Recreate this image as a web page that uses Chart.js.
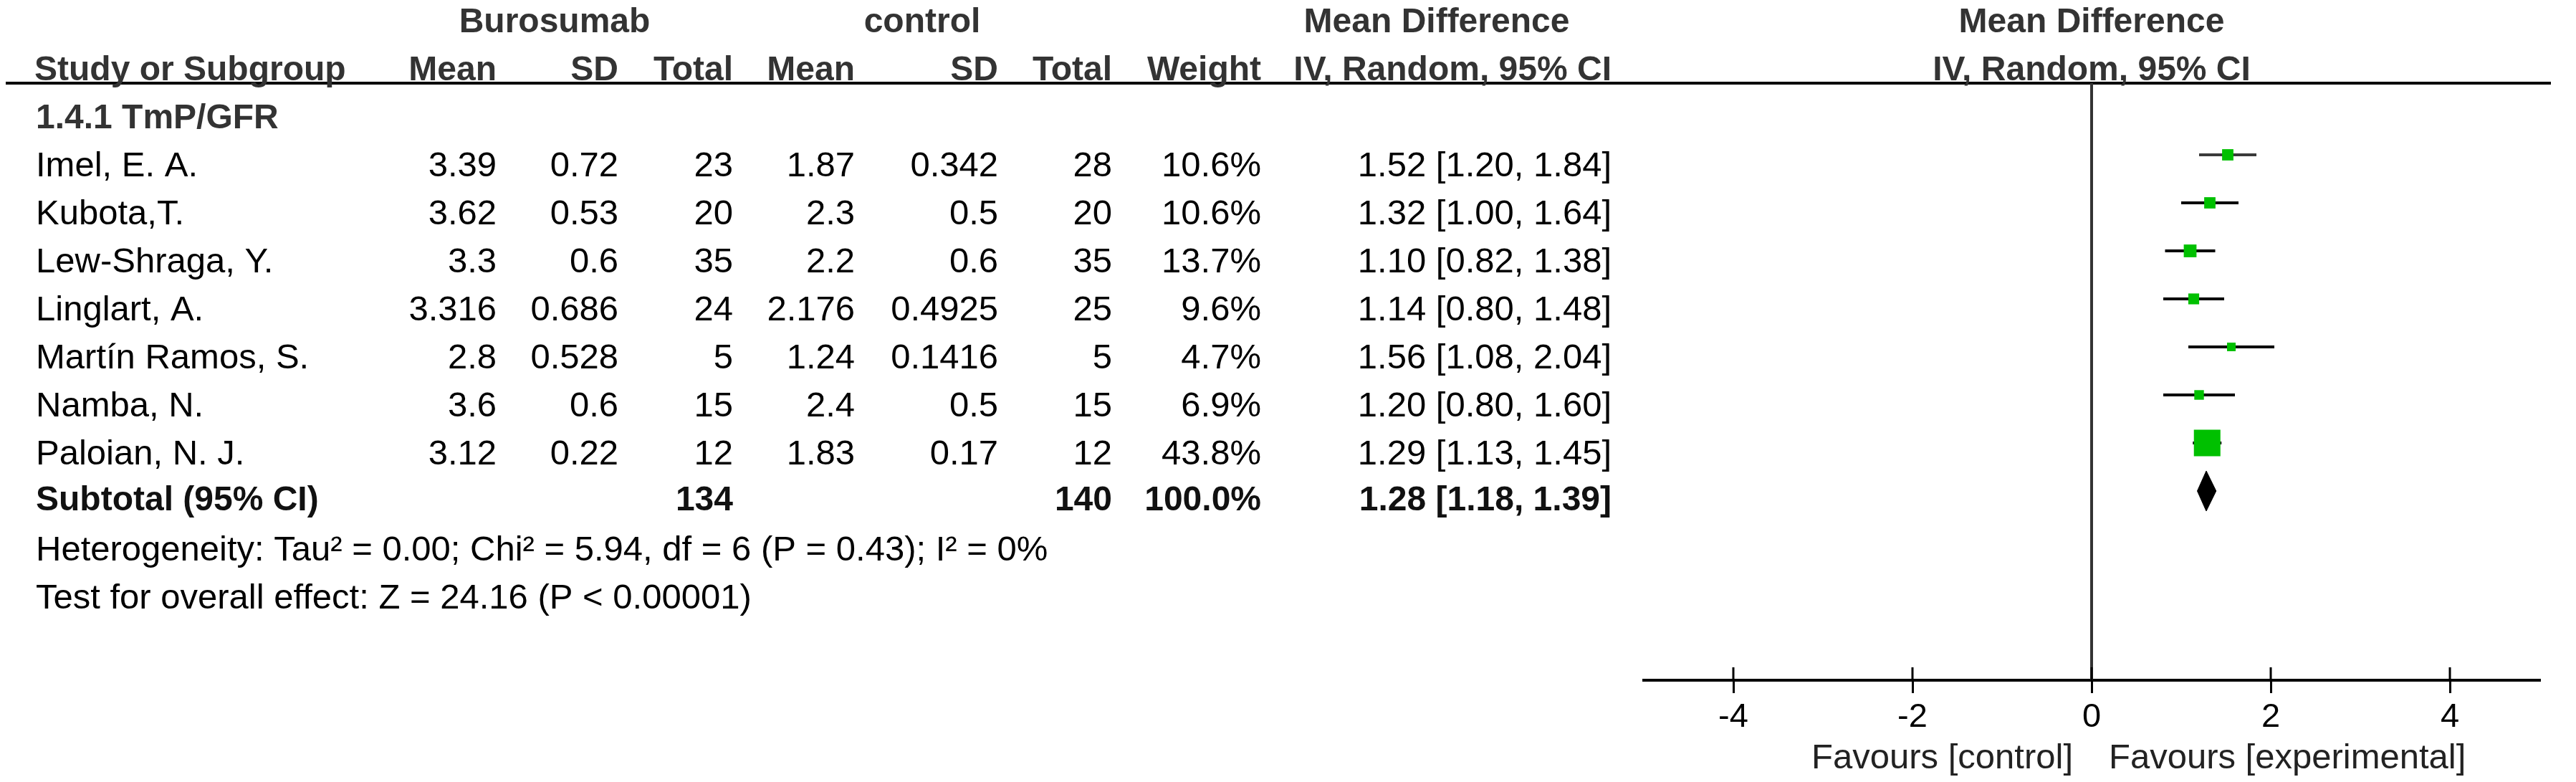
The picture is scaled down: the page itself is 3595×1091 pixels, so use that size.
<!DOCTYPE html>
<html>
<head>
<meta charset="utf-8">
<script src="https://cdn.jsdelivr.net/npm/chart.js@4"></script>
<style>
  html, body { margin: 0; padding: 0; background: #fff; }
  #wrap { width: 3595px; height: 1091px; }
</style>
</head>
<body>
<div id="wrap"><canvas id="forest"></canvas></div>
<script>
// Forest plot: Burosumab vs control, 1.4.1 TmP/GFR
const studies = ['Imel, E. A.', 'Kubota,T.', 'Lew-Shraga, Y.', 'Linglart, A.', 'Martín Ramos, S.', 'Namba, N.', 'Paloian, N. J.'];
const expMean = [3.39, 3.62, 3.3, 3.316, 2.8, 3.6, 3.12];
const expSD = [0.72, 0.53, 0.6, 0.686, 0.528, 0.6, 0.22];
const expN = [23, 20, 35, 24, 5, 15, 12];
const ctrlMean = [1.87, 2.3, 2.2, 2.176, 1.24, 2.4, 1.83];
const ctrlSD = [0.342, 0.5, 0.6, 0.4925, 0.1416, 0.5, 0.17];
const ctrlN = [28, 20, 35, 25, 5, 15, 12];
const weights = [10.6, 10.6, 13.7, 9.6, 4.7, 6.9, 43.8];
const md = [1.52, 1.32, 1.10, 1.14, 1.56, 1.20, 1.29];
const ciLow = [1.20, 1.00, 0.82, 0.80, 1.08, 0.80, 1.13];
const ciHigh = [1.84, 1.64, 1.38, 1.48, 2.04, 1.60, 1.45];
const totalExpN = 134;
const totalCtrlN = 140;
const totalWeight = 100.0;
const totalMd = 1.28;
const totalLow = 1.18;
const totalHigh = 1.39;
const heterogeneity = 'Heterogeneity: Tau² = 0.00; Chi² = 5.94, df = 6 (P = 0.43); I² = 0%';
const overallTest = 'Test for overall effect: Z = 24.16 (P < 0.00001)';
const xTicks = [-4, -2, 0, 2, 4];

// layout (px)
const W = 3595, H = 1091;
const topLine = 116;     // header rule
const axisY = 949;       // x axis line
const rowPitch = 67;
const firstRow = 100;    // first study row below header rule
const yMin = -firstRow / rowPitch;
const yMax = yMin + (axisY - topLine) / rowPitch;
const subRow = studies.length;
const family = '"Liberation Sans", Arial, sans-serif';
const col = { name: 50, eMean: 693, eSD: 863, eN: 1023, cMean: 1193, cSD: 1393, cN: 1552, weight: 1760, ci: 2249 };

const sqSide = w => 9 + 0.64 * w;
const fmtCI = (m, l, h) => m.toFixed(2) + ' [' + l.toFixed(2) + ', ' + h.toFixed(2) + ']';

const ciData = [];
studies.forEach((s, i) => {
  ciData.push({ x: ciLow[i], y: i }, { x: ciHigh[i], y: i }, { x: null, y: null });
});
const dh = 28 / rowPitch;
const diamond = [
  { x: totalLow, y: subRow }, { x: totalMd, y: subRow - dh },
  { x: totalHigh, y: subRow }, { x: totalMd, y: subRow + dh }, { x: totalLow, y: subRow }
];

const tablePlugin = {
  id: 'table',
  beforeDatasetsDraw(chart) {
    const c = chart.ctx, x = chart.scales.x;
    c.save();
    c.fillStyle = '#000';
    c.fillRect(8, topLine - 2, 3552, 4);
    const x0 = x.getPixelForValue(0);
    c.fillStyle = '#333';
    c.fillRect(x0 - 2, topLine, 4, chart.chartArea.bottom - topLine);
    c.fillStyle = '#000';
    x.ticks.forEach(t => {
      const px = x.getPixelForValue(t.value);
      c.fillRect(px - 1.5, axisY - 18, 3, 18);
    });
    c.restore();
  },
  afterDraw(chart) {
    const c = chart.ctx, x = chart.scales.x, y = chart.scales.y;
    const base = i => y.getPixelForValue(i) + 30;
    const x0 = x.getPixelForValue(0);
    const t = (s, px, row, align, bold, color) => {
      c.font = (bold ? 'bold 48px ' : '49px ') + family;
      c.textAlign = align;
      c.fillStyle = color || (bold ? '#333' : '#000');
      c.fillText(s, px, typeof row === 'number' ? base(row) : row.py);
    };
    c.save();
    c.textBaseline = 'alphabetic';
    // group headers
    t('Burosumab', 774, -3, 'center', true);
    t('control', 1287, -3, 'center', true);
    t('Mean Difference', 2005, -3, 'center', true);
    t('Mean Difference', x0, -3, 'center', true);
    // column headers
    t('Study or Subgroup', 48, -2, 'left', true);
    t('Mean', col.eMean, -2, 'right', true);
    t('SD', col.eSD, -2, 'right', true);
    t('Total', col.eN, -2, 'right', true);
    t('Mean', col.cMean, -2, 'right', true);
    t('SD', col.cSD, -2, 'right', true);
    t('Total', col.cN, -2, 'right', true);
    t('Weight', col.weight, -2, 'right', true);
    t('IV, Random, 95% CI', col.ci, -2, 'right', true);
    t('IV, Random, 95% CI', x0, -2, 'center', true);
    t('1.4.1 TmP/GFR', col.name, -1, 'left', true);
    // study rows
    studies.forEach((s, i) => {
      t(s, col.name, i, 'left');
      t(String(expMean[i]), col.eMean, i, 'right');
      t(String(expSD[i]), col.eSD, i, 'right');
      t(String(expN[i]), col.eN, i, 'right');
      t(String(ctrlMean[i]), col.cMean, i, 'right');
      t(String(ctrlSD[i]), col.cSD, i, 'right');
      t(String(ctrlN[i]), col.cN, i, 'right');
      t(weights[i].toFixed(1) + '%', col.weight, i, 'right');
      t(fmtCI(md[i], ciLow[i], ciHigh[i]), col.ci, i, 'right');
    });
    // subtotal
    const sub = { py: base(subRow) - 3 };
    t('Subtotal (95% CI)', col.name, sub, 'left', true, '#111');
    t(String(totalExpN), col.eN, sub, 'right', true, '#111');
    t(String(totalCtrlN), col.cN, sub, 'right', true, '#111');
    t(totalWeight.toFixed(1) + '%', col.weight, sub, 'right', true, '#111');
    t(fmtCI(totalMd, totalLow, totalHigh), col.ci, sub, 'right', true, '#111');
    t(heterogeneity, col.name, subRow + 1, 'left');
    t(overallTest, col.name, subRow + 2, 'left');
    // favours labels
    t('Favours [control]', x0 - 26, { py: 1072 }, 'right', false, '#222');
    t('Favours [experimental]', x0 + 24, { py: 1072 }, 'left', false, '#222');
    c.restore();
  }
};

Chart.defaults.font.family = family;

new Chart(document.getElementById('forest'), {
  type: 'scatter',
  data: {
    datasets: [
      {
        label: 'Pooled',
        data: diamond,
        showLine: true,
        fill: 'shape',
        backgroundColor: '#000',
        borderColor: '#000',
        borderWidth: 1,
        pointRadius: 0,
        order: 0
      },
      {
        label: 'Studies',
        data: studies.map((s, i) => ({ x: md[i], y: i })),
        pointStyle: 'rect',
        pointRadius: ctx => sqSide(weights[ctx.dataIndex]) / Math.SQRT2,
        backgroundColor: '#00c000',
        borderWidth: 0,
        order: 1
      },
      {
        label: '95% CI',
        data: ciData,
        showLine: true,
        spanGaps: false,
        borderColor: '#000',
        segment: { borderColor: ctx => ctx.p0DataIndex < 2 ? '#3a3a3a' : '#000' },
        borderWidth: 4,
        pointRadius: 0,
        order: 2
      }
    ]
  },
  options: {
    responsive: true,
    maintainAspectRatio: false,
    devicePixelRatio: 1,
    animation: false,
    layout: { padding: { left: 2294, right: W - 3544, top: topLine, bottom: 0 } },
    plugins: { legend: { display: false }, tooltip: { enabled: false } },
    scales: {
      x: {
        type: 'linear',
        min: -5,
        max: 5,
        position: 'bottom',
        afterBuildTicks: s => { s.ticks = xTicks.map(v => ({ value: v })); },
        afterFit: s => { s.height = H - axisY; },
        border: { display: true, color: '#000', width: 4 },
        grid: { drawOnChartArea: false, drawTicks: true, tickLength: 18, color: '#000', lineWidth: 3 },
        ticks: { color: '#000', font: { size: 47 }, padding: 6, maxRotation: 0, autoSkip: false }
      },
      y: {
        type: 'linear',
        display: false,
        reverse: true,
        min: yMin,
        max: yMax
      }
    }
  },
  plugins: [tablePlugin]
});
</script>
</body>
</html>
